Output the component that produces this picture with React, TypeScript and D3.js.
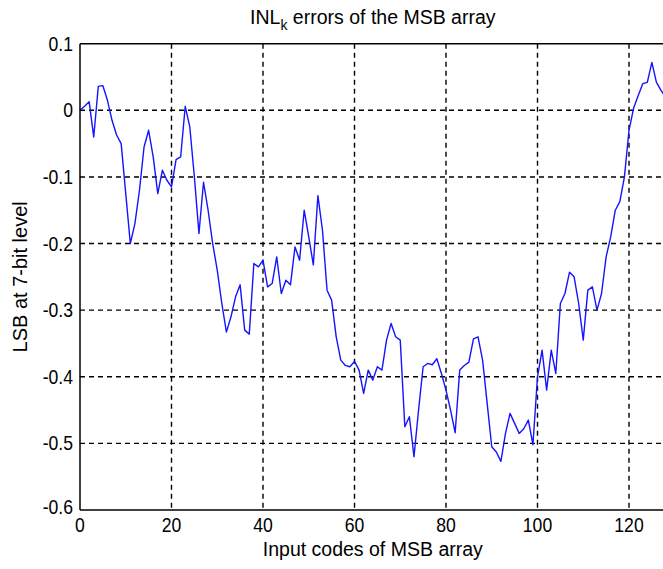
import React, { useEffect, useRef } from "react";
import * as d3 from "d3";

// INL_k of the MSB array, one value per input code (0..128)
const inlValues = [
  0, 0.006, 0.013, -0.04, 0.036, 0.037, 0.015, -0.015, -0.037, -0.05,
  -0.125, -0.2, -0.17, -0.12, -0.055, -0.03, -0.07, -0.125, -0.09, -0.105,
  -0.115, -0.074, -0.07, 0.006, -0.025, -0.1, -0.185, -0.108, -0.15, -0.2,
  -0.24, -0.29, -0.333, -0.31, -0.28, -0.262, -0.33, -0.336, -0.23, -0.235,
  -0.225, -0.265, -0.26, -0.22, -0.275, -0.255, -0.262, -0.205, -0.225, -0.15,
  -0.19, -0.232, -0.128, -0.18, -0.27, -0.285, -0.34, -0.375, -0.383, -0.385,
  -0.377, -0.39, -0.425, -0.39, -0.405, -0.385, -0.39, -0.345, -0.32, -0.34,
  -0.345, -0.475, -0.46, -0.52, -0.45, -0.385, -0.38, -0.382, -0.373, -0.395,
  -0.42, -0.45, -0.484, -0.39, -0.383, -0.378, -0.343, -0.34, -0.375, -0.44,
  -0.505, -0.513, -0.527, -0.485, -0.455, -0.47, -0.485, -0.478, -0.465, -0.502,
  -0.4, -0.36, -0.42, -0.36, -0.395, -0.29, -0.275, -0.243, -0.25, -0.29,
  -0.345, -0.27, -0.265, -0.3, -0.275, -0.22, -0.19, -0.15, -0.137, -0.1,
  -0.03, 0.003, 0.022, 0.04, 0.042, 0.072, 0.042, 0.03, 0.02
];

const xTicks = [0, 20, 40, 60, 80, 100, 120];
const yTicks = [0.1, 0, -0.1, -0.2, -0.3, -0.4, -0.5, -0.6];

const titleMain = "INL";
const titleSub = "k";
const titleRest = " errors of the MSB array";
const xLabel = "Input codes of MSB array";
const yLabel = "LSB at 7-bit level";

export default function App() {
  const ref = useRef<SVGSVGElement>(null);

  useEffect(() => {
    const width = 663;
    const height = 569;
    const left = 80;
    const top = 43.7;
    const bottom = 510;
    const right = left + 128 * 4.575;

    const svg = d3.select(ref.current);
    svg.selectAll("*").remove();
    svg.attr("width", width).attr("height", height);

    const font = "'Liberation Sans', Arial, Helvetica, sans-serif";
    const squeeze = 0.88; // the original text is a bit narrow

    const x = d3.scaleLinear().domain([0, 128]).range([left, right]);
    const y = d3.scaleLinear().domain([-0.6, 0.1]).range([bottom, top]);

    svg.append("rect").attr("width", width).attr("height", height).attr("fill", "#fff");

    // dashed grid
    const grid = svg.append("g").attr("stroke", "#000").attr("stroke-width", 1.4)
      .attr("stroke-dasharray", "5,4");
    grid.selectAll(".vg").data(xTicks.filter(d => d > 0)).enter().append("line")
      .attr("x1", d => x(d)).attr("x2", d => x(d))
      .attr("y1", top).attr("y2", bottom);
    grid.selectAll(".hg").data(yTicks.filter(d => d > -0.6 && d < 0.1)).enter().append("line")
      .attr("x1", left).attr("x2", right)
      .attr("y1", d => y(d)).attr("y2", d => y(d));

    // data line
    const line = d3.line<number>()
      .x((d, i) => x(i))
      .y(d => y(d));
    svg.append("path")
      .datum(inlValues)
      .attr("fill", "none")
      .attr("stroke", "#1414ff")
      .attr("stroke-width", 1.4)
      .attr("stroke-linejoin", "round")
      .attr("d", line);

    // axes box (right side falls outside the picture)
    const box = svg.append("g").attr("stroke", "#000").attr("stroke-width", 1.5).attr("fill", "none");
    box.append("line").attr("x1", left).attr("x2", right).attr("y1", top).attr("y2", top);
    box.append("line").attr("x1", left).attr("x2", right).attr("y1", bottom).attr("y2", bottom);
    box.append("line").attr("x1", left).attr("x2", left).attr("y1", top).attr("y2", bottom);

    const texts = svg.append("g").attr("fill", "#000").attr("font-family", font);

    // tick labels
    texts.append("g").selectAll("text").data(xTicks).enter().append("text")
      .attr("transform", d => `translate(${x(d)},${bottom + 22}) scale(${squeeze},1)`)
      .attr("text-anchor", "middle")
      .attr("font-size", 20)
      .text(d => String(d));

    texts.append("g").selectAll("text").data(yTicks).enter().append("text")
      .attr("transform", d => `translate(${left - 7},${y(d) + (d === -0.6 ? 4 : 7)}) scale(${squeeze},1)`)
      .attr("text-anchor", "end")
      .attr("font-size", 20)
      .text(d => String(d));

    // title
    const title = texts.append("text")
      .attr("transform", `translate(${(left + right) / 2},24)`)
      .attr("text-anchor", "middle")
      .attr("fill", "#000")
      .attr("font-size", 19.5);
    title.append("tspan").attr("fill", "#000").text(titleMain);
    title.append("tspan").attr("fill", "#000").attr("dy", 6).attr("font-size", 14).text(titleSub);
    title.append("tspan").attr("fill", "#000").attr("dy", -6).text(titleRest);

    texts.append("text")
      .attr("transform", `translate(${(left + right) / 2},556)`)
      .attr("text-anchor", "middle")
      .attr("font-size", 19.5)
      .text(xLabel);

    texts.append("text")
      .attr("transform", `translate(27, ${(top + bottom) / 2}) rotate(-90)`)
      .attr("text-anchor", "middle")
      .attr("font-size", 20)
      .text(yLabel);
  }, []);

  return (
    <div style={{ position: "absolute", left: 0, top: 0 }}>
      <svg ref={ref} style={{ display: "block" }} />
    </div>
  );
}
